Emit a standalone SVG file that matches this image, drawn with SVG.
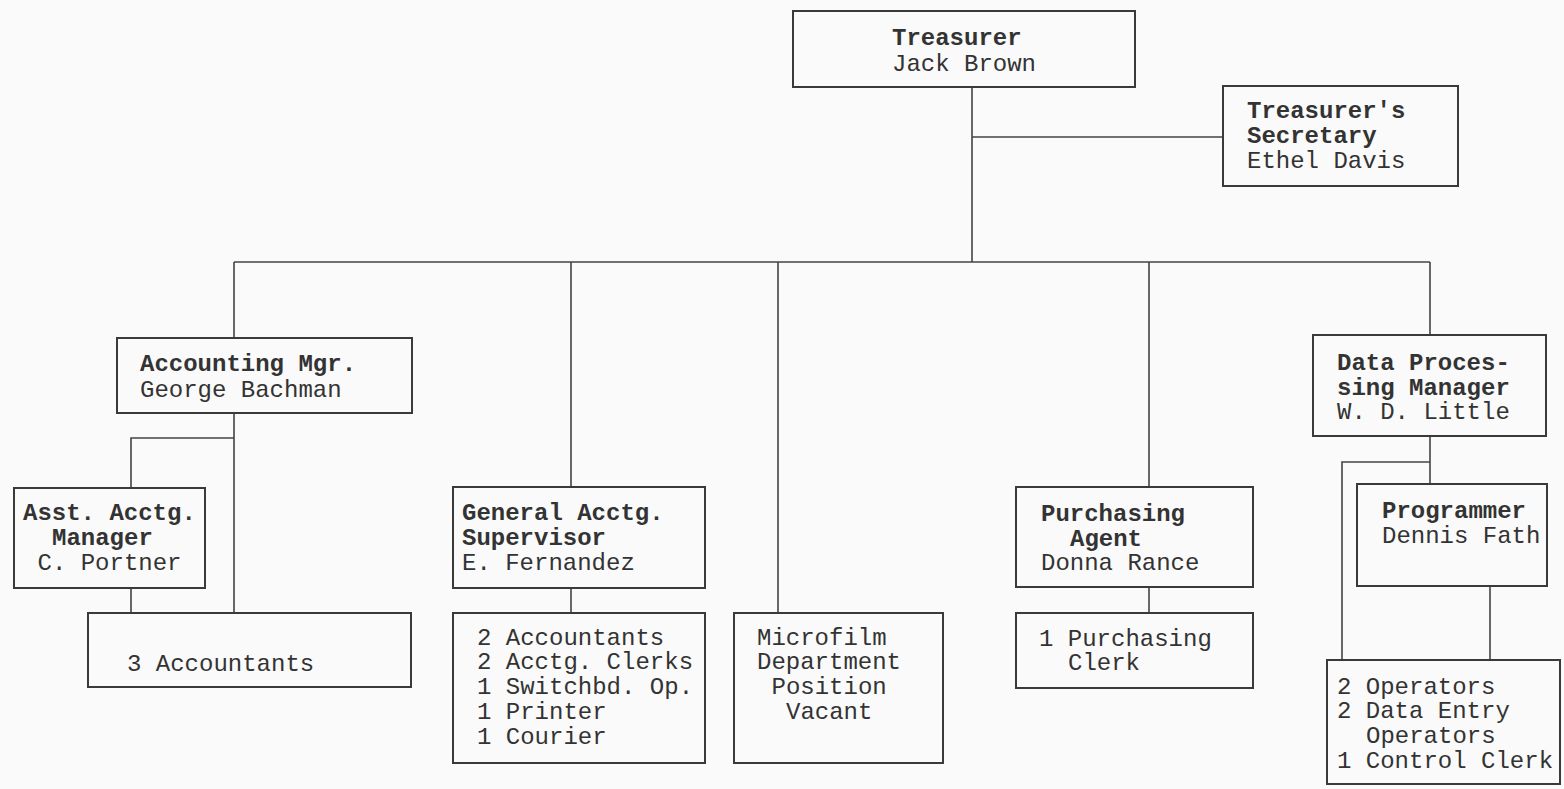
<svg xmlns="http://www.w3.org/2000/svg" width="1564" height="789" viewBox="0 0 1564 789">
<style>
.bg{fill:#fafafa}
.box{fill:none;stroke:#3a3a3a;stroke-width:2}
.con{fill:none;stroke:#444;stroke-width:1.6}
text{font-family:"Liberation Mono","Courier New",monospace;font-size:24px;fill:#333}
.b{font-weight:bold}
</style>
<rect class="bg" x="0" y="0" width="1564" height="789"/>
<g id="connectors">
<path class="con" d="M972,87 V262 M972,137 H1223 M234,262 H1430 M234,262 V338 M571,262 V487 M778,262 V613 M1149,262 V487 M1430,262 V335"/>
<path class="con" d="M234,413 V613 M234,438 H131 V488 M131,588 V613"/>
<path class="con" d="M571,588 V613"/>
<path class="con" d="M1149,587 V613"/>
<path class="con" d="M1430,436 V484 M1430,462 H1342 V660 M1490,586 V660"/>
</g>
<g id="treasurer">
<rect class="box" x="793" y="11" width="342" height="76"/>
<text class="b" x="892" y="45">Treasurer</text>
<text x="892" y="71">Jack Brown</text>
</g>
<g id="secretary">
<rect class="box" x="1223" y="86" width="235" height="100"/>
<text class="b" x="1247" y="118">Treasurer's</text>
<text class="b" x="1247" y="143">Secretary</text>
<text x="1247" y="168">Ethel Davis</text>
</g>
<g id="accounting-mgr">
<rect class="box" x="117" y="338" width="295" height="75"/>
<text class="b" x="140" y="371">Accounting Mgr.</text>
<text x="140" y="397">George Bachman</text>
</g>
<g id="asst-acctg-mgr">
<rect class="box" x="14" y="488" width="191" height="100"/>
<text class="b" x="23" y="520">Asst. Acctg.</text>
<text class="b" x="52" y="545">Manager</text>
<text x="37.5" y="570">C. Portner</text>
</g>
<g id="three-accountants">
<rect class="box" x="88" y="613" width="323" height="74"/>
<text x="127" y="671">3 Accountants</text>
</g>
<g id="general-acctg">
<rect class="box" x="453" y="487" width="252" height="101"/>
<text class="b" x="462" y="520">General Acctg.</text>
<text class="b" x="462" y="545">Supervisor</text>
<text x="462" y="570">E. Fernandez</text>
</g>
<g id="general-staff">
<rect class="box" x="453" y="613" width="252" height="150"/>
<text x="477" y="645">2 Accountants</text>
<text x="477" y="669">2 Acctg. Clerks</text>
<text x="477" y="694">1 Switchbd. Op.</text>
<text x="477" y="719">1 Printer</text>
<text x="477" y="744">1 Courier</text>
</g>
<g id="microfilm">
<rect class="box" x="734" y="613" width="209" height="150"/>
<text x="757" y="645">Microfilm</text>
<text x="757" y="669">Department</text>
<text x="771.5" y="694">Position</text>
<text x="786" y="719">Vacant</text>
</g>
<g id="purchasing-agent">
<rect class="box" x="1016" y="487" width="237" height="100"/>
<text class="b" x="1041" y="521">Purchasing</text>
<text class="b" x="1070" y="546">Agent</text>
<text x="1041" y="570">Donna Rance</text>
</g>
<g id="purchasing-clerk">
<rect class="box" x="1016" y="613" width="237" height="75"/>
<text x="1039" y="646">1 Purchasing</text>
<text x="1068" y="670">Clerk</text>
</g>
<g id="dp-manager">
<rect class="box" x="1313" y="335" width="233" height="101"/>
<text class="b" x="1337" y="370">Data Proces-</text>
<text class="b" x="1337" y="395">sing Manager</text>
<text x="1337" y="419">W. D. Little</text>
</g>
<g id="programmer">
<rect class="box" x="1357" y="484" width="190" height="102"/>
<text class="b" x="1382" y="518">Programmer</text>
<text x="1382" y="543">Dennis Fath</text>
</g>
<g id="dp-staff">
<rect class="box" x="1327" y="660" width="233" height="124"/>
<text x="1337" y="694">2 Operators</text>
<text x="1337" y="718">2 Data Entry</text>
<text x="1366" y="743">Operators</text>
<text x="1337" y="768">1 Control Clerk</text>
</g>
</svg>
